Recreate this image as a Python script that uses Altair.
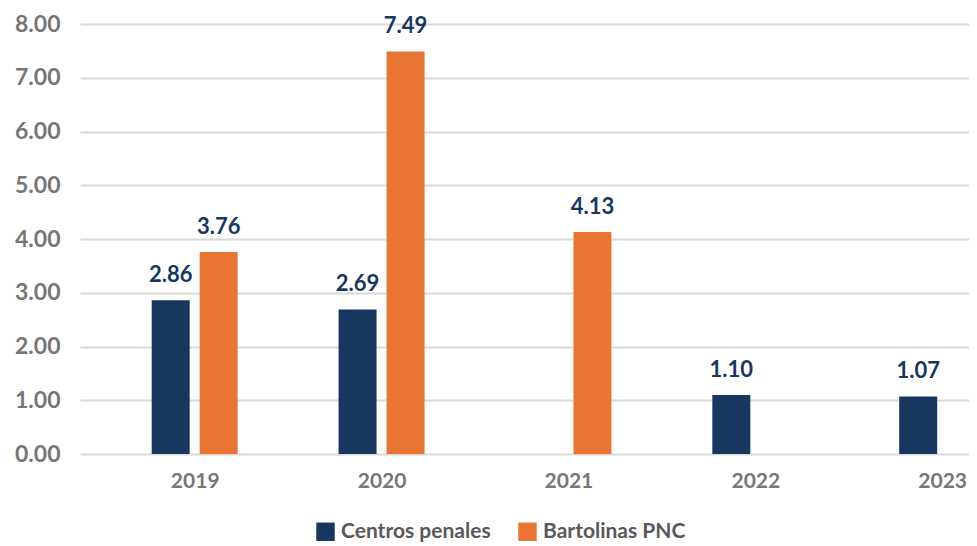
import altair as alt
import pandas as pd

years = [2019, 2020, 2021, 2022, 2023]
centros = [2.86, 2.69, None, 1.10, 1.07]
bartolinas = [3.76, 7.49, 4.13, None, None]
series_names = ["Centros penales", "Bartolinas PNC"]
colors = ["#17375E", "#E97532"]
y_ticks = [0, 1, 2, 3, 4, 5, 6, 7, 8]

rows = []
for yr, c, b in zip(years, centros, bartolinas):
    if c is not None:
        rows.append({"year": yr, "serie": series_names[0], "value": c})
    if b is not None:
        rows.append({"year": yr, "serie": series_names[1], "value": b})
df = pd.DataFrame(rows)

FONT = "Lato"
PLOT_W = 889

xscale = alt.Scale(domain=[2018.413, 2018.413 + PLOT_W / 189.0], nice=False, zero=False)
yscale = alt.Scale(domain=[0, 8], nice=False)
cscale = alt.Scale(domain=series_names, range=colors)

x = alt.X("year:Q", scale=xscale, title=None,
          axis=alt.Axis(values=years, format="d", grid=False, ticks=False, domain=False,
                        labelFlush=False, labelPadding=16, labelFontSize=21,
                        labelFont=FONT, labelFontWeight="bold", labelColor="#767676"))
y = alt.Y("value:Q", scale=yscale, title=None,
          axis=alt.Axis(values=y_ticks, format=".2f", grid=True, gridColor="#D9D9D9",
                        gridWidth=2, ticks=False, domain=False, labelPadding=20,
                        labelFontSize=23, labelFont=FONT, labelFontWeight="bold",
                        labelColor="#767676"))

layers = []
for i, name in enumerate(series_names):
    off = -24 if i == 0 else 24
    sub = alt.Chart(df).transform_filter(alt.datum.serie == name)
    bars = sub.mark_bar(width=38, xOffset=off).encode(
        x=x, y=y,
        color=alt.Color("serie:N", scale=cscale, title=None,
                        legend=alt.Legend(orient="none", direction="horizontal",
                                          legendX=235, legendY=497,
                                          symbolType="square", symbolSize=340,
                                          symbolStrokeWidth=0, symbolOpacity=1,
                                          labelFontSize=21, labelFont=FONT,
                                          labelFontWeight="bold", labelColor="#595959",
                                          labelOffset=5, columnPadding=26)),
    )
    labels = sub.mark_text(xOffset=off, dy=-18, baseline="alphabetic", fontSize=22,
                           font=FONT, fontWeight="bold", color="#17375E").encode(
        x=x, y=y, text=alt.Text("value:Q", format=".2f"))
    layers += [bars, labels]

chart = alt.layer(*layers).properties(
    width=PLOT_W, height=430,
    autosize=alt.AutoSizeParams(type="none"),
    padding={"left": 72, "top": 16, "right": 0, "bottom": 92},
).configure_view(stroke=None)

chart.save("out.html", embed_options={"renderer": "svg", "actions": False})
